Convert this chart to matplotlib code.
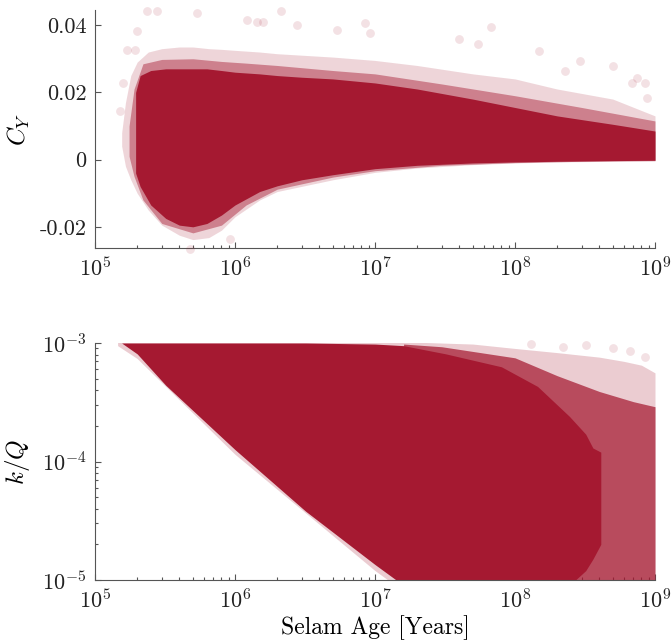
import matplotlib
matplotlib.use("Agg")
import matplotlib.pyplot as plt
import numpy as np

plt.rcParams.update({
    "font.family": "serif",
    "font.serif": ["cmr10", "DejaVu Serif"],
    "mathtext.fontset": "cm",
    "axes.unicode_minus": False,
    "axes.formatter.use_mathtext": True,
    "font.size": 16,
    "axes.linewidth": 0.8,
    "axes.edgecolor": "#555555",
    "xtick.color": "#555555",
    "ytick.color": "#555555",
    "xtick.labelcolor": "#222222",
    "ytick.labelcolor": "#222222",
    "axes.spines.top": False,
    "axes.spines.right": False,
})

RED = "#a51931"

# ---------- top panel: C_Y vs age (cloud envelopes) ----------
cy_core_age = [1.95e5, 2.1e5, 2.5e5, 3.2e5, 4e5, 5e5, 6.3e5, 8e5, 1e6, 1.5e6,
               2e6, 3e6, 5e6, 1e7, 2e7, 5e7, 1e8, 2e8, 5e8, 1e9]
cy_core_hi = [0.020, 0.025, 0.0265, 0.027, 0.027, 0.027, 0.027, 0.0265, 0.026, 0.0255,
              0.025, 0.0245, 0.024, 0.0228, 0.021, 0.018, 0.0155, 0.013, 0.0105, 0.0085]
cy_core_lo = [-0.004, -0.008, -0.0135, -0.0175, -0.0195, -0.020, -0.019, -0.0165, -0.0135, -0.0095,
              -0.0078, -0.006, -0.0045, -0.0027, -0.0017, -0.001, -0.0007, -0.0005, -0.0003, -0.0002]

cy_mid_age = [1.75e5, 1.9e5, 2.2e5, 3e5, 5e5, 8e5, 1.2e6, 2e6, 5e6, 1e7, 3e7, 1e8, 3e8, 1e9]
cy_mid_hi = [0.010, 0.021, 0.0285, 0.0298, 0.030, 0.0292, 0.0287, 0.028, 0.0265, 0.0255,
             0.0225, 0.019, 0.0155, 0.0115]
cy_mid_lo = [0.001, -0.005, -0.012, -0.019, -0.0218, -0.0195, -0.0135, -0.0088, -0.0052, -0.0033,
             -0.0017, -0.0009, -0.0005, -0.0003]

cy_out_age = [1.55e5, 1.65e5, 1.8e5, 2.0e5, 2.4e5, 3e5, 4e5, 5e5, 6.5e5, 8e5, 1e6, 1.5e6,
              2e6, 5e6, 1e7, 2e7, 5e7, 1e8, 2e8, 5e8, 1e9]
cy_out_hi = [0.008, 0.017, 0.025, 0.029, 0.032, 0.033, 0.0335, 0.0335, 0.033, 0.0328, 0.0325,
             0.032, 0.0315, 0.0305, 0.0295, 0.028, 0.0255, 0.024, 0.021, 0.018, 0.013]
cy_out_lo = [0.004, -0.002, -0.006, -0.010, -0.015, -0.0195, -0.0225, -0.0238, -0.0232, -0.021,
             -0.017, -0.012, -0.0095, -0.006, -0.0038, -0.0025, -0.0015, -0.001, -0.0007,
             -0.0005, -0.0004]

# stray points outside the cloud
cy_pts_age = [2.35e5, 2.77e5, 5.35e5, 2.13e6, 1.22e6, 1.44e6, 1.58e6, 2.0e5, 1.69e5, 1.93e5,
              1.51e5, 1.58e5, 9.2e5, 4.77e5, 2.77e6, 8.5e6, 5.35e6, 9.2e6, 6.7e7, 3.98e7,
              5.4e7, 1.48e8, 2.91e8, 5.0e8, 2.28e8, 6.85e8, 7.4e8, 8.5e8, 8.8e8]
cy_pts_val = [0.0442, 0.0442, 0.0436, 0.0442, 0.0415, 0.0409, 0.0409, 0.0382, 0.0325, 0.0325,
              0.0146, 0.0227, -0.0236, -0.0266, 0.040, 0.0406, 0.0385, 0.0376, 0.0394, 0.0358,
              0.0343, 0.0322, 0.0293, 0.0278, 0.0263, 0.0227, 0.0242, 0.0227, 0.0182]

# ---------- bottom panel: k/Q vs age ----------
kq_core_age = [1.55e5, 2e5, 3.2e5, 1e6, 3.2e6, 1e7, 1.6e7, 3.2e7, 8e7, 1.45e8,
               2.45e8, 3.2e8, 3.6e8, 4.1e8]
kq_core_hi = [1e-3, 1e-3, 1e-3, 1e-3, 1e-3, 9.8e-4, 9.5e-4, 8.1e-4, 6.3e-4, 4.3e-4,
              2.4e-4, 1.7e-4, 1.3e-4, 1.2e-4]
kq_core_lo = [1e-3, 8.1e-4, 4.4e-4, 1.26e-4, 3.8e-5, 1.35e-5, 9e-6, 9e-6, 9e-6, 9e-6,
              9e-6, 1.2e-5, 1.5e-5, 2e-5]

kq_mid_age = [1.6e7, 3e7, 1e8, 2e8, 4e8, 7e8, 1e9]
kq_mid_hi = [9.8e-4, 9.3e-4, 7.5e-4, 5.3e-4, 3.9e-4, 3.2e-4, 2.9e-4]
kq_mid_lo = [9e-6, 9e-6, 9e-6, 9e-6, 9e-6, 9e-6, 9e-6]

kq_out_age = [1.45e5, 2e5, 1e6, 1e7, 1.4e7, 5e7, 1e8, 2e8, 4e8, 6e8, 8e8, 1e9]
kq_out_hi = [1.03e-3, 1.03e-3, 1.03e-3, 1.03e-3, 1.03e-3, 9.8e-4, 9e-4, 8.3e-4, 7.6e-4,
             7e-4, 6.5e-4, 5.6e-4]
kq_out_lo = [9.5e-4, 7.4e-4, 1.15e-4, 1.2e-5, 9e-6, 9e-6, 9e-6, 9e-6, 9e-6, 9e-6, 9e-6, 9e-6]

kq_pts_age = [5.0e8, 6.6e8, 3.2e8, 1.3e8, 2.2e8, 8.5e8]
kq_pts_val = [9.0e-4, 8.5e-4, 9.6e-4, 9.9e-4, 9.3e-4, 7.6e-4]

x_ticks = [1e5, 1e6, 1e7, 1e8, 1e9]
cy_ticks = [-0.02, 0, 0.02, 0.04]
cy_ticklabels = ["-0.02", "0", "0.02", "0.04"]


def draw_cloud(ax, layers, pts_x, pts_y):
    for (xs, lo, hi), a in layers:
        ax.fill_between(xs, lo, hi, color=RED, alpha=a, linewidth=0, zorder=2)
    ax.scatter(pts_x, pts_y, s=40, color=RED, alpha=0.13, linewidths=0, zorder=3,
               clip_on=False)


def style_axis(ax):
    ax.set_xscale("log")
    ax.set_xlim(1e5, 1e9)
    ax.set_xticks(x_ticks)
    ax.tick_params(which="both", direction="in", width=0.8)
    ax.tick_params(which="major", length=4.5, labelsize=16, pad=6)
    ax.tick_params(which="minor", length=2.5)


fig = plt.figure(figsize=(6.72, 6.42), dpi=100)
ax1 = fig.add_axes([0.1414, 0.6137, 0.8333, 0.3707])
ax2 = fig.add_axes([0.1414, 0.0966, 0.8333, 0.3691])

# top
draw_cloud(ax1, [((cy_out_age, cy_out_lo, cy_out_hi), 0.18),
                 ((cy_mid_age, cy_mid_lo, cy_mid_hi), 0.45),
                 ((cy_core_age, cy_core_lo, cy_core_hi), 1.0)],
           cy_pts_age, cy_pts_val)
style_axis(ax1)
ax1.set_ylim(-0.0263, 0.0445)
ax1.set_yticks(cy_ticks)
ax1.set_yticklabels(cy_ticklabels)
ax1.set_ylabel(r"$C_Y$", fontsize=18)
ax1.yaxis.set_label_coords(-0.113, 0.5)

# bottom
draw_cloud(ax2, [((kq_out_age, kq_out_lo, kq_out_hi), 0.22),
                 ((kq_mid_age, kq_mid_lo, kq_mid_hi), 0.72),
                 ((kq_core_age, kq_core_lo, kq_core_hi), 1.0)],
           kq_pts_age, kq_pts_val)
style_axis(ax2)
ax2.set_yscale("log")
ax2.set_ylim(1e-5, 1e-3)
ax2.set_yticks([1e-5, 1e-4, 1e-3])
ax2.tick_params(axis="y", which="both", direction="in")
ax2.set_ylabel(r"$k/Q$", fontsize=18)
ax2.yaxis.set_label_coords(-0.113, 0.5)
ax2.set_xlabel("Selam Age [Years]", fontsize=17, labelpad=2)

fig.savefig("out.png", dpi=100)
